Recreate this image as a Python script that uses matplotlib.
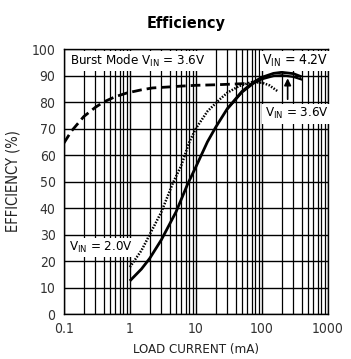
import matplotlib
matplotlib.use('Agg')
import matplotlib.pyplot as plt
import numpy as np

plt.rcParams['font.family'] = ['DejaVu Sans']
plt.rcParams['font.stretch'] = 'condensed'

# load current (mA) and efficiency (%)
i_42 = [1, 1.5, 2, 3, 5, 7.5, 10, 15, 20, 30, 50, 75, 100, 150, 200, 300, 400]
e_42 = [12.5, 17, 21, 28, 38.5, 49, 55.5, 65, 70.5, 77.5, 84, 87.5, 89.3, 90.8, 91.2, 90.7, 89.5]
i_36 = [30, 50, 75, 100, 150, 200, 300, 400]
e_36 = [77.3, 83.6, 87.0, 88.6, 89.8, 90.1, 89.5, 88.5]
i_20 = [1, 1.5, 2, 3, 4.5, 6, 8, 10, 15, 23, 30, 45, 70, 100, 130, 175]
e_20 = [17.7, 24, 30, 38.5, 49.5, 56, 65, 70, 76.5, 81, 83.5, 86, 87.5, 87.3, 86.3, 84]
i_burst = [0.1, 0.13, 0.2, 0.3, 0.4, 0.6, 0.9, 1.5, 2.2, 4, 6, 10, 20, 40, 60]
e_burst = [64.5, 69, 74.5, 78, 80, 82, 83.4, 84.6, 85.3, 85.7, 86, 86.3, 86.5, 86.8, 87]

fig = plt.figure(figsize=(3.51, 3.59), dpi=100)
ax = fig.add_axes([0.182, 0.1253, 0.752, 0.7382])

ax.plot(i_42, e_42, color='black', lw=2.0, solid_capstyle='butt')
ax.plot(i_36, e_36, color='black', lw=1.6)
ax.plot(i_20, e_20, color='black', lw=1.8, linestyle=(0, (0.6, 0.6)))
ax.plot(i_burst, e_burst, color='black', lw=2.0, linestyle=(0, (3.5, 1.8)))

ax.set_xscale('log')
ax.set_xlim(0.1, 1000)
ax.set_ylim(0, 100)
ax.set_yticks(np.arange(0, 101, 10))
ax.set_xticks([0.1, 1, 10, 100, 1000])
ax.set_xticklabels(['0.1', '1', '10', '100', '1000'])
ax.grid(True, which='major', color='black', lw=1.0)
ax.grid(True, which='minor', axis='x', color='black', lw=0.9)
ax.tick_params(which='both', length=0, labelsize=10, pad=6, labelcolor='#333333')
for s in ax.spines.values():
    s.set_linewidth(1.0)

ax.set_xlabel('LOAD CURRENT (mA)', fontsize=9.5, labelpad=5, color='#222222')
ax.set_ylabel('EFFICIENCY (%)', fontsize=10.5, labelpad=8, color='#222222')
fig.text(0.53, 0.935, 'Efficiency', ha='center', va='center', fontsize=11.5, fontweight='bold')

box = dict(facecolor='white', edgecolor='none', pad=1.5)
ax.text(0.125, 95.5, 'Burst Mode V$_{\\mathregular{IN}}$ = 3.6V', fontsize=9.5, va='center', bbox=box)
ax.text(100, 95.5, 'V$_{\\mathregular{IN}}$ = 4.2V', fontsize=10, va='center', bbox=box)
ax.text(110, 75.5, 'V$_{\\mathregular{IN}}$ = 3.6V', fontsize=9.5, va='center', bbox=box)
ax.text(0.12, 25, 'V$_{\\mathregular{IN}}$ = 2.0V', fontsize=9.5, va='center', bbox=box)
ax.annotate('', xy=(246, 90), xytext=(246, 80),
            arrowprops=dict(arrowstyle='-|>', color='black', lw=1.2, mutation_scale=10))

fig.savefig('out.png', dpi=100)
